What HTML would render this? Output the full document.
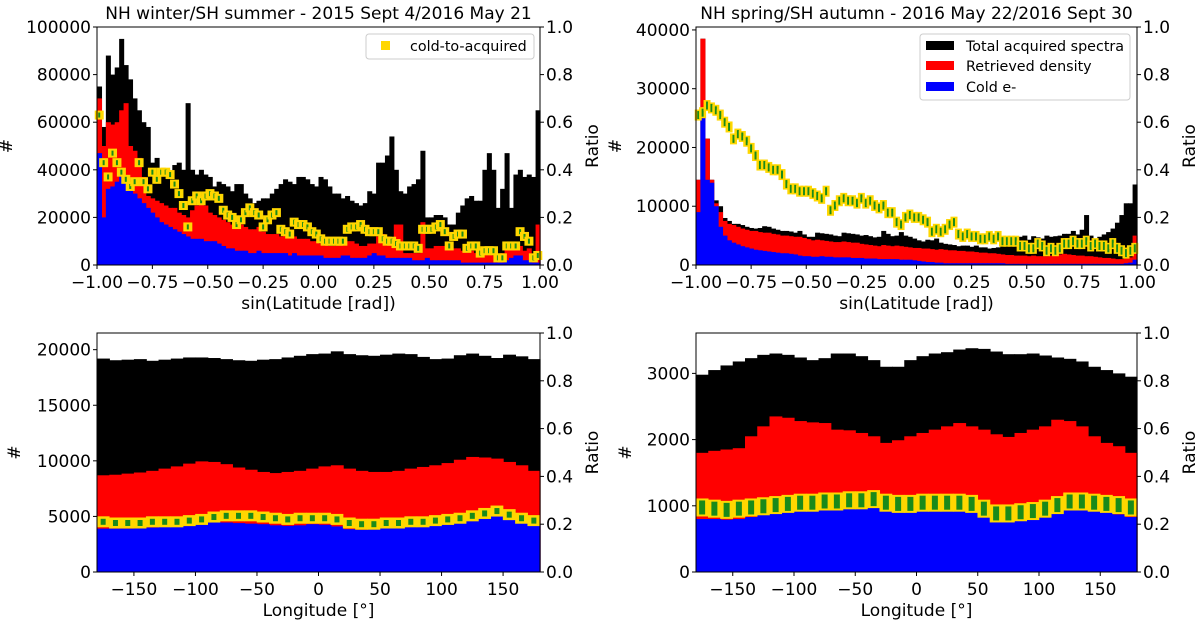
<!DOCTYPE html>
<html><head><meta charset="utf-8"><style>
html,body{margin:0;padding:0;background:#fff}
svg{display:block;font-family:"DejaVu Sans","Liberation Sans",sans-serif}
</style></head><body>
<svg id="fig" width="1200" height="627" viewBox="0 0 1200 627" xmlns="http://www.w3.org/2000/svg"></svg>
<script>
// ---------- data: top-left (sin latitude, counts in thousands) ----------
const tlTotal=[75,58,88,80,83,95,84,78,70,65,60,58,43,45,40,38,37,42,43,40,68,40,38,40,38,37,33,35,34,33,31,34,34,30,28,26,27,28,28,30,32,34,36,35,34,37,37,36,34,33,37,36,33,30,30,28,29,27,26,25,26,31,30,43,43,46,54,40,31,30,33,34,36,48,20,20,21,21,20,17,17,22,25,28,29,27,27,40,47,40,24,32,47,24,38,40,37,38,37,65];
const tlRetrieved=[70,50,60,59,60,65,68,50,48,45,37,29,28,27,26,25,24,24,22,21,20,23,25,26,25,22,21,20,19,18,17,18,17,16,15,15,16,14,13,13,13,12,13,12,12,11,11,11,10,10,9,9,8,8,9,9,10,10,9,8,8,9,9,12,13,12,11,17,17,5,5,5,5,18,7,7,8,8,8,8,7,7,6,6,6,5,5,5,5,4,4,5,8,7,9,8,6,7,4,17];
const tlCold=[47,20,32,33,35,38,37,35,30,28,26,24,22,20,18,17,16,15,14,13,12,11,11,11,10,10,10,9,8,7,7,6,6,6,5,5,6,5,5,5,5,5,5,4,5,4,4,4,4,4,4,3,3,3,3,4,4,3,3,3,3,4,5,4,4,3,3,3,3,3,3,2,2,2,3,2,2,2,2,2,2,2,1,1,1,1,1,1,1,1,1,1,2,3,4,4,2,2,1,1];
const tlRatio=[.63,.43,.37,.47,.43,.39,.36,.33,.35,.43,.35,.32,.39,.36,.39,.39,.38,.34,.30,.25,.16,.27,.29,.27,.29,.30,.29,.28,.23,.21,.20,.17,.19,.22,.24,.22,.21,.16,.19,.21,.22,.15,.14,.13,.18,.17,.17,.16,.14,.13,.11,.10,.10,.10,.10,.10,.15,.16,.16,.17,.15,.14,.14,.14,.11,.10,.10,.09,.08,.08,.08,.08,.07,.15,.15,.15,.16,.17,.14,.08,.12,.13,.13,.07,.08,.08,.05,.06,.06,.06,.03,.03,.08,.08,.08,.14,.12,.10,.03,.04];
// ---------- data: top-right ----------
const trTotal=[14.5,38.5,21.5,14.5,11,10,8,7.5,7,7,6.8,6.5,6.3,6.2,6.3,6.6,6.5,6.2,6,5.8,5.8,5.7,5.5,5.8,5.2,4.8,4.8,5.5,5.4,5.3,5.2,5.0,4.9,5.5,5.4,5.3,5.2,5.0,5.1,4.9,4.7,4.8,5.8,5.3,4.9,5.0,5.6,5.0,4.8,4.5,4.2,4.0,4.3,4.2,4.5,3.8,3.6,3.5,3.4,3.2,3.3,3.3,3.1,3.3,3.0,3.0,2.8,2.9,3.0,3.2,4.8,4.5,4.6,4.8,5.0,4.3,4.9,4.7,4.5,5.0,4.8,4.9,5.0,5.3,5.3,5.8,5.2,6.0,8.5,5.0,4.5,4.8,5.2,5.6,6.2,7.2,8.5,10.5,10.5,13.7];
const trRetrieved=[14.5,38.5,21.5,14.5,10.5,9,7.5,7,6.8,6.5,6.2,6,5.8,5.8,5.6,5.5,5.5,5.3,5.2,5.0,5.0,4.9,4.8,4.8,4.6,4.4,4.2,4.3,4.2,4.1,4.0,3.9,3.9,4.0,3.9,3.8,3.8,3.6,3.5,3.4,3.3,3.2,3.4,3.3,3.2,3.3,3.2,3.1,3.0,2.9,2.9,2.8,2.8,2.7,2.6,2.7,2.6,2.5,2.5,2.4,2.4,2.3,2.3,2.2,2.1,2.1,2.0,2.0,1.9,1.8,1.7,1.7,1.6,1.6,1.6,1.5,1.6,1.5,1.5,1.5,1.6,1.8,1.8,1.9,1.8,1.7,1.6,1.6,1.5,1.5,1.4,1.3,1.2,1.2,1.1,1.0,1.0,1.1,1.3,5.0];
const trCold=[9,25,14.5,14,10,6.5,5,4.2,3.8,3.5,3.2,3.0,2.8,2.6,2.5,2.4,2.3,2.2,2.1,2.0,2.0,1.9,1.8,1.6,1.5,1.5,1.4,1.4,1.5,1.4,1.4,1.3,1.3,1.3,1.3,1.2,1.2,1.2,1.1,1.1,1.1,1.0,1.0,1.0,1.0,1.0,0.9,0.9,0.9,0.8,0.7,0.6,0.5,0.5,0.4,0.4,0.3,0.3,0.3,0.3,0.3,0.3,0.3,0.3,0.3,0.3,0.3,0.3,0.3,0.3,0.2,0.2,0.2,0.2,0.2,0.2,0.2,0.2,0.2,0.2,0.2,0.2,0.2,0.2,0.2,0.2,0.2,0.2,0.2,0.2,0.2,0.2,0.2,0.2,0.2,0.2,0.2,0.3,0.4,0.9];
const trRatio=[.63,.64,.67,.66,.65,.63,.60,.58,.53,.55,.54,.52,.49,.46,.42,.42,.41,.40,.40,.38,.34,.32,.32,.31,.31,.31,.30,.29,.28,.31,.23,.25,.27,.28,.27,.27,.26,.28,.26,.27,.25,.24,.25,.22,.22,.18,.17,.20,.21,.20,.20,.19,.18,.14,.15,.14,.15,.17,.18,.13,.12,.13,.12,.12,.11,.11,.12,.11,.12,.10,.10,.10,.10,.08,.08,.07,.07,.09,.08,.06,.07,.06,.07,.09,.09,.10,.09,.09,.10,.08,.09,.08,.08,.07,.09,.07,.06,.05,.06,.07];
// ---------- data: bottom-left (longitude) ----------
const blTotal=[19200,19050,19100,19150,19000,19100,19200,19300,19300,19250,19150,19050,19000,19100,19150,19300,19450,19600,19650,19850,19600,19500,19450,19550,19650,19600,19350,19150,19200,19500,19650,19450,19250,19550,19400,19150];
const blRetrieved=[8700,8750,8850,8950,9100,9300,9500,9750,9950,9900,9700,9400,9200,9000,8900,9000,9100,9300,9500,9600,9300,9100,9000,9000,9100,9300,9450,9600,9800,10100,10350,10300,10200,9900,9600,9100];
const blCold=[3900,3900,3900,3950,4000,4050,4100,4250,4400,4500,4450,4400,4350,4300,4200,4150,4200,4300,4250,4100,3850,3800,3900,3950,4000,4050,4100,4250,4400,4550,4700,4850,5000,4750,4500,4250];
const blRatio=[.21,.205,.205,.205,.21,.21,.21,.215,.22,.23,.235,.235,.235,.23,.225,.22,.225,.225,.225,.22,.205,.20,.20,.205,.205,.21,.21,.215,.22,.225,.235,.245,.255,.24,.225,.215];
// ---------- data: bottom-right ----------
const brTotal=[2980,3050,3120,3180,3230,3280,3300,3280,3240,3200,3230,3300,3300,3260,3200,3100,3100,3200,3260,3300,3320,3360,3380,3370,3330,3290,3290,3300,3270,3240,3220,3180,3100,3050,3000,2950];
const brRetrieved=[1800,1830,1850,1870,2050,2200,2350,2330,2280,2260,2250,2150,2140,2100,2050,1950,1990,2050,2100,2150,2200,2250,2200,2150,2080,2040,2100,2150,2200,2300,2280,2200,2050,1950,1900,1800];
const brCold=[800,800,790,800,830,870,900,920,940,960,980,1000,1000,1010,1030,950,950,960,970,980,990,990,960,880,800,790,820,860,900,960,1000,980,950,930,870,830];
const brRatio=[.27,.265,.26,.265,.27,.275,.28,.285,.29,.29,.295,.295,.30,.30,.305,.29,.285,.285,.29,.29,.29,.29,.285,.265,.245,.245,.25,.255,.265,.28,.295,.295,.29,.285,.28,.27];
// ---------- tick labels ----------
const latTicks=[-1,-0.75,-0.5,-0.25,0,0.25,0.5,0.75,1];
const latTickLabels=["−1.00","−0.75","−0.50","−0.25","0.00","0.25","0.50","0.75","1.00"];
const lonTicks=[-150,-100,-50,0,50,100,150];
const lonTickLabels=["−150","−100","−50","0","50","100","150"];
const ratioTicks=[0,0.2,0.4,0.6,0.8,1.0];
const ratioTickLabels=["0.0","0.2","0.4","0.6","0.8","1.0"];
const tlYTicks=[0,20,40,60,80,100];const tlYLabels=["0","20000","40000","60000","80000","100000"];
const trYTicks=[0,10,20,30,40];const trYLabels=["0","10000","20000","30000","40000"];
const blYTicks=[0,5000,10000,15000,20000];const blYLabels=["0","5000","10000","15000","20000"];
const brYTicks=[0,1000,2000,3000];const brYLabels=["0","1000","2000","3000"];

const NS="http://www.w3.org/2000/svg";
const fig=document.getElementById('fig');
const FS=17;
function mk(tag,attrs,parent){const e=document.createElementNS(NS,tag);for(const k in attrs)e.setAttribute(k,attrs[k]);(parent||fig).appendChild(e);return e;}
function txt(s,attrs,parent){const e=mk('text',attrs,parent);e.textContent=s;return e;}

function panel(o){
  const g=mk('g',{});
  
  
  const X=v=>o.x0+(v-o.xmin)/(o.xmax-o.xmin)*(o.x1-o.x0);
  const Y=v=>o.y1-(v-0)/o.ymax*(o.y1-o.y0);
  const R=v=>o.y1-v*(o.y1-o.y0);
  const n=o.total.length, bw=(o.xmax-o.xmin)/n;
  const series=[[o.total,'#000','bar-total'],[o.retrieved,'#f00','bar-retrieved'],[o.cold,'#00f','bar-cold']];
  series.forEach(([arr,col,nm])=>{
    const sg=mk('g',{fill:col},g);
    
    
    arr.forEach((v,i)=>{
      const xa=X(o.xmin+i*bw), xb=X(o.xmin+(i+1)*bw);
      const r=mk('rect',{x:xa.toFixed(2),y:Y(v).toFixed(2),width:(xb-xa+0.6).toFixed(2),height:(o.y1-Y(v)).toFixed(2)},sg);
      
      
    });
  });
  const mg=mk('g',{},g);
  
  
  o.ratio.forEach((v,i)=>{
    const cx=X(o.xmin+(i+0.5)*bw), cy=R(v);
    const m=mk('rect',{x:cx-o.mw/2,y:cy-o.mh/2,width:o.mw,height:o.mh,fill:'#ffd700'},mg);
    
    
    const e=mk('rect',{x:cx-o.ew/2,y:cy-o.eh/2,width:o.ew,height:o.eh,fill:'#1a8a1a'},mg);
    
    
  });
  mk('rect',{x:o.x0,y:o.y0,width:o.x1-o.x0,height:o.y1-o.y0,fill:'none',stroke:'#000','stroke-width':1},g);
  o.xt.forEach((v,i)=>{const x=X(v);mk('line',{x1:x,x2:x,y1:o.y1,y2:o.y1+4,stroke:'#000'},g);
    const t=txt(o.xtl[i],{x:x,y:o.y1+23,'text-anchor':'middle','font-size':FS},g);
    });
  o.yt.forEach((v,i)=>{const y=Y(v);mk('line',{x1:o.x0-4,x2:o.x0,y1:y,y2:y,stroke:'#000'},g);
    const t=txt(o.ytl[i],{x:o.x0-6,y:y+6,'text-anchor':'end','font-size':FS},g);
    });
  ratioTicks.forEach((v,i)=>{const y=R(v);mk('line',{x1:o.x1,x2:o.x1+4,y1:y,y2:y,stroke:'#000'},g);
    const t=txt(ratioTickLabels[i],{x:o.x1+6,y:y+6,'font-size':FS},g);
    });
  const yl=txt('#',{x:0,y:0,'text-anchor':'middle','font-size':FS,transform:`translate(${o.ylx},${(o.y0+o.y1)/2}) rotate(-90)`},g);
  
  const rl=txt('Ratio',{x:0,y:0,'text-anchor':'middle','font-size':FS,transform:`translate(${o.x1+58},${(o.y0+o.y1)/2}) rotate(-90)`},g);
  
  const xl=txt(o.xlabel,{x:(o.x0+o.x1)/2,y:o.y1+44,'text-anchor':'middle','font-size':FS},g);
  
  if(o.title){const t=txt(o.title,{x:(o.x0+o.x1)/2,y:o.y0-8,'text-anchor':'middle','font-size':FS},g);
    }
}
panel({name:'panel-latitude-winter',x0:97,x1:540,y0:27,y1:265,xmin:-1,xmax:1,ymax:100,total:tlTotal,retrieved:tlRetrieved,cold:tlCold,ratio:tlRatio,
  xt:latTicks,xtl:latTickLabels,yt:tlYTicks,ytl:tlYLabels,ylx:12,xlabel:'sin(Latitude [rad])',title:'NH winter/SH summer - 2015 Sept 4/2016 May 21',mw:9,mh:9,ew:2,eh:5});
panel({name:'panel-latitude-spring',x0:696,x1:1137,y0:27,y1:265,xmin:-1,xmax:1,ymax:40.5,total:trTotal,retrieved:trRetrieved,cold:trCold,ratio:trRatio,
  xt:latTicks,xtl:latTickLabels,yt:trYTicks,ytl:trYLabels,ylx:621,xlabel:'sin(Latitude [rad])',title:'NH spring/SH autumn - 2016 May 22/2016 Sept 30',mw:7,mh:11,ew:2,eh:8});
panel({name:'panel-longitude-winter',x0:97,x1:540,y0:333,y1:572,xmin:-180,xmax:180,ymax:21500,total:blTotal,retrieved:blRetrieved,cold:blCold,ratio:blRatio,
  xt:lonTicks,xtl:lonTickLabels,yt:blYTicks,ytl:blYLabels,ylx:20,xlabel:'Longitude [°]',title:'',mw:12.8,mh:11,ew:5,eh:6});
panel({name:'panel-longitude-spring',x0:696,x1:1137,y0:333,y1:572,xmin:-180,xmax:180,ymax:3610,total:brTotal,retrieved:brRetrieved,cold:brCold,ratio:brRatio,
  xt:lonTicks,xtl:lonTickLabels,yt:brYTicks,ytl:brYLabels,ylx:631,xlabel:'Longitude [°]',title:'',mw:12.8,mh:18,ew:6,eh:14});

// legends
const lg1=mk('g',{});


mk('rect',{x:366,y:34,width:168,height:25,rx:3,fill:'#fff','fill-opacity':0.8,stroke:'#ccc'},lg1);
mk('rect',{x:381,y:41,width:9,height:9,fill:'#ffd700'},lg1);
const l1=txt('cold-to-acquired',{x:410,y:51,'font-size':14.3},lg1);


const lg2=mk('g',{});


mk('rect',{x:920,y:34,width:210,height:66,rx:3,fill:'#fff','fill-opacity':0.8,stroke:'#ccc'},lg2);
[['#000','Total acquired spectra',41],['#f00','Retrieved density',61],['#00f','Cold e-',82]].forEach(([c,s,y])=>{
  mk('rect',{x:926,y:y,width:28,height:9,fill:c},lg2);
  const t=txt(s,{x:966,y:y+10,'font-size':14.3},lg2);
  
});
</script>
</body></html>
